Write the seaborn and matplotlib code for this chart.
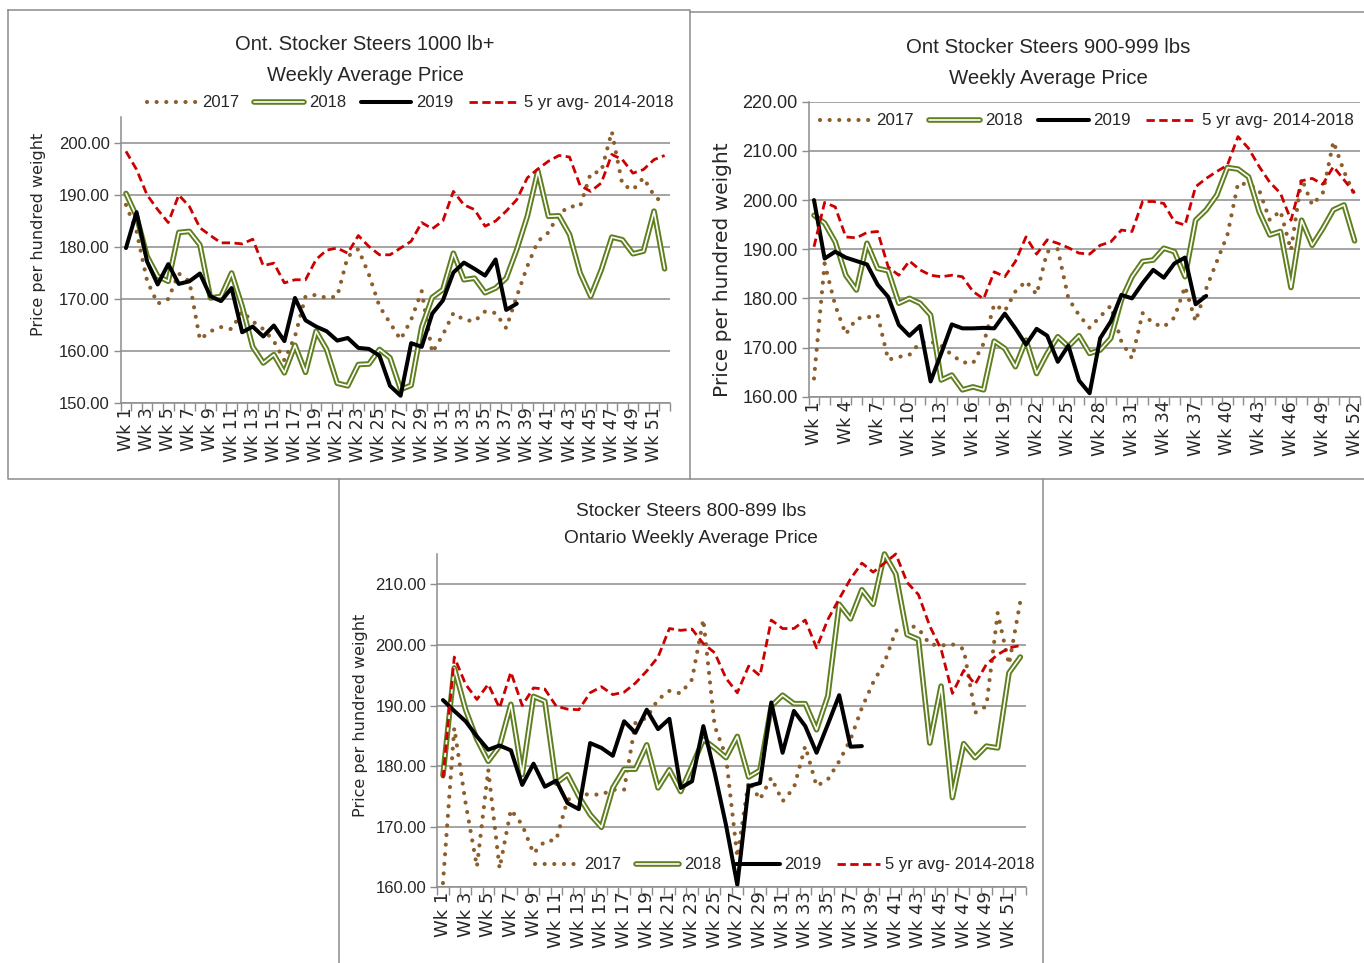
import matplotlib
matplotlib.use("Agg")
import numpy as np
import matplotlib.pyplot as plt
import matplotlib.patheffects as pe
from matplotlib.lines import Line2D
import seaborn as sns

# ---- data ----
weeks = list(range(1, 53))

# Ont. Stocker Steers 1000 lb+
p1_2017 = [188.1, 183.0, 173.5, 169.1, 170.0, 174.9, 173.4, 162.2, 163.8, 164.6,
           164.2, 167.6, 165.7, 164.2, 161.9, 158.2, 162.8, 170.5, 170.8, 170.2,
           170.5, 178.2, 179.6, 174.7, 168.6, 165.4, 162.2, 166.0, 171.5, 159.7,
           163.1, 167.3, 166.0, 165.7, 167.6, 167.3, 164.4, 170.5, 176.3, 181.1,
           182.8, 186.4, 187.8, 187.8, 194.2, 194.5, 202.2, 192.0, 191.0, 193.3,
           189.9, 188.1]
p1_2018 = [190.3, 185.9, 178.2, 174.4, 173.4, 182.8, 183.0, 180.4, 170.2, 170.5,
           175.0, 168.6, 160.8, 157.7, 159.3, 155.8, 161.1, 155.9, 163.8, 160.3,
           153.8, 153.3, 157.4, 157.5, 160.3, 158.7, 152.6, 153.4, 164.6, 170.3,
           171.8, 178.8, 173.7, 174.0, 171.2, 172.1, 174.0, 179.5, 185.9, 194.6,
           185.9, 186.0, 182.4, 175.0, 170.5, 175.6, 181.9, 181.4, 178.7, 179.2,
           186.9, 175.8]
p1_2019 = [179.8, 186.7, 177.2, 172.8, 176.7, 172.9, 173.4, 174.9, 170.5, 169.6,
           172.1, 163.6, 164.7, 162.8, 164.9, 161.9, 170.2, 165.9, 164.7, 163.8,
           162.0, 162.5, 160.6, 160.4, 159.1, 153.3, 151.4, 161.5, 160.8, 167.2,
           169.7, 175.1, 177.0, 175.8, 174.5, 177.6, 167.9, 169.1]
p1_avg = [198.4, 194.9, 190.0, 187.2, 184.7, 190.0, 187.8, 183.7, 182.2, 180.8,
          180.8, 180.6, 181.5, 176.4, 176.9, 173.1, 173.7, 173.7, 177.6, 179.4,
          179.8, 178.8, 182.2, 180.1, 178.5, 178.5, 179.8, 181.1, 184.7, 183.5,
          185.0, 190.7, 188.1, 187.2, 184.0, 185.0, 186.9, 189.1, 193.3, 195.0,
          196.5, 197.6, 197.3, 191.8, 190.7, 192.3, 197.8, 196.8, 194.2, 194.9,
          196.8, 197.6]

# Ont Stocker Steers 900-999 lbs
p2_2017 = [163.7, 187.1, 178.6, 172.7, 175.9, 176.1, 176.6, 167.5, 168.1, 168.5,
           171.0, 171.2, 170.4, 168.5, 167.0, 166.8, 170.8, 178.8, 177.4, 181.4,
           183.5, 180.8, 189.5, 190.0, 180.0, 176.6, 174.0, 176.3, 178.5, 171.2,
           167.8, 177.0, 174.9, 174.2, 176.1, 182.4, 175.3, 182.0, 187.5, 192.9,
           203.4, 203.2, 202.0, 195.9, 197.8, 189.8, 204.4, 199.0, 201.4, 211.9,
           205.8, 201.0]
p2_2018 = [196.9, 195.3, 191.5, 184.7, 181.7, 191.2, 186.1, 185.6, 179.0, 180.0,
           179.0, 176.6, 163.4, 164.4, 161.4, 162.0, 161.4, 171.3, 169.8, 166.1,
           171.5, 164.7, 168.8, 172.2, 170.2, 172.4, 168.8, 169.5, 171.9, 179.7,
           184.4, 187.5, 187.8, 190.2, 189.5, 184.4, 195.9, 198.0, 201.0, 206.6,
           206.3, 204.7, 197.6, 192.9, 193.6, 182.2, 195.9, 190.8, 194.2, 198.0,
           199.0, 191.7]
p2_2019 = [200.0, 188.1, 189.5, 188.3, 187.6, 186.9, 182.8, 180.3, 174.6, 172.4,
           174.4, 163.1, 168.8, 174.7, 173.9, 173.9, 174.0, 173.9, 176.9, 173.9,
           170.6, 173.8, 172.4, 167.1, 170.4, 163.3, 160.7, 171.9, 175.3, 180.7,
           180.0, 183.1, 185.8, 184.2, 187.1, 188.3, 178.8, 180.5]
p2_avg = [190.5, 199.5, 198.6, 192.5, 192.3, 193.4, 193.6, 186.4, 184.7, 187.6,
          185.8, 184.7, 184.4, 184.7, 184.4, 181.4, 179.9, 185.4, 184.4, 187.5,
          192.5, 189.0, 191.9, 191.2, 190.3, 189.2, 189.0, 190.8, 191.5, 193.9,
          193.6, 199.7, 199.7, 199.3, 195.6, 194.9, 202.7, 204.4, 205.8, 207.1,
          212.9, 210.5, 206.8, 203.6, 201.4, 195.9, 203.9, 204.4, 203.2, 206.8,
          204.1, 201.4]

# Stocker Steers 800-899 lbs
p3_2017 = [160.7, 186.3, 173.9, 163.4, 179.4, 163.1, 172.8, 170.3, 165.6, 167.6,
           167.8, 174.4, 175.4, 175.3, 175.3, 176.1, 176.1, 187.1, 188.0, 191.0,
           192.4, 192.0, 194.3, 204.2, 186.6, 181.6, 165.0, 177.5, 174.5, 178.1,
           174.2, 176.4, 183.3, 176.7, 177.8, 180.8, 184.4, 189.6, 193.8, 197.1,
           202.3, 203.4, 202.7, 200.1, 199.9, 200.1, 199.3, 188.8, 189.9, 205.3,
           196.8, 207.2]
p3_2018 = [178.5, 196.2, 189.3, 184.4, 180.8, 183.3, 190.2, 178.6, 191.5, 190.7,
           177.2, 178.6, 175.0, 172.0, 169.9, 176.4, 179.5, 179.5, 183.5, 176.4,
           179.4, 175.8, 180.0, 184.4, 183.0, 181.4, 184.9, 178.2, 179.3, 189.9,
           191.7, 190.3, 190.3, 186.0, 191.6, 206.7, 204.3, 209.1, 206.7, 215.0,
           211.7, 201.7, 200.9, 183.8, 193.2, 174.8, 183.7, 181.4, 183.3, 183.0,
           195.4, 198.0]
p3_2019 = [190.9, 189.1, 187.4, 184.9, 182.7, 183.4, 182.6, 176.9, 180.4, 176.6,
           177.6, 173.9, 172.9, 183.8, 183.0, 181.7, 187.4, 185.5, 189.3, 186.1,
           187.8, 176.4, 177.5, 186.6, 178.9, 170.3, 160.4, 176.7, 177.2, 190.5,
           182.2, 189.1, 186.6, 182.2, 186.9, 191.7, 183.2, 183.3]
p3_avg = [178.0, 198.0, 193.5, 191.0, 193.5, 189.6, 195.5, 190.0, 192.9, 192.7,
          189.9, 189.4, 189.3, 192.1, 193.1, 191.8, 192.2, 193.7, 195.7, 198.0,
          202.7, 202.4, 202.6, 200.2, 198.7, 194.5, 192.1, 196.5, 194.9, 204.1,
          202.7, 202.7, 204.1, 199.5, 204.2, 207.6, 210.9, 213.5, 212.0, 213.5,
          215.0, 210.3, 208.3, 203.1, 199.3, 192.0, 195.8, 193.5, 196.8, 198.4,
          199.5, 199.9]

series_labels = ['2017', '2018', '2019', '5 yr avg- 2014-2018']

brown = '#8c5e2c'
green = '#5f7f1f'
red = '#cc0000'
gray = '#8c8c8c'

sns.set_theme(style="white")
plt.rcParams['font.family'] = ['Liberation Sans', 'DejaVu Sans']

W, H = 1364, 963
fig = plt.figure(figsize=(W / 100, H / 100), dpi=100)


def px_axes(left, top, right, bottom):
    return fig.add_axes([left / W, 1 - bottom / H, (right - left) / W, (bottom - top) / H])


def fig_line(xs, ys):
    fig.add_artist(Line2D([x / W for x in xs], [1 - y / H for y in ys],
                          transform=fig.transFigure, color=gray, lw=1.1))


def draw_panel(ax, d17, d18, d19, davg, ylo, yhi, ytop, lab_step, fs_tick, fs_x, fs_ylab):
    sns.lineplot(x=weeks, y=d17, ax=ax, color=brown, lw=3.0, linestyle=(0, (0.01, 2.3)),
                 dash_capstyle='round', label=series_labels[0], clip_on=False)
    sns.lineplot(x=weeks, y=d18, ax=ax, color='white', lw=1.2, label=series_labels[1],
                 path_effects=[pe.Stroke(linewidth=4.0, foreground=green), pe.Normal()],
                 clip_on=False)
    sns.lineplot(x=weeks[:len(d19)], y=d19, ax=ax, color='black', lw=2.9,
                 label=series_labels[2], clip_on=False)
    sns.lineplot(x=weeks, y=davg, ax=ax, color=red, lw=2.0, linestyle=(0, (3, 1.6)),
                 label=series_labels[3], clip_on=False)

    ax.set_xlim(0.5, 52.5)
    ax.set_ylim(ylo, ytop)
    yt = list(range(ylo, yhi + 1, 10))
    ax.set_yticks(yt)
    ax.set_yticklabels([f'{v:.2f}' for v in yt], fontsize=fs_tick)
    ax.yaxis.grid(True, color=gray, lw=1.1)
    ax.xaxis.grid(False)
    ax.set_axisbelow(True)
    for s in ['top', 'right']:
        ax.spines[s].set_visible(False)
    for s in ['left', 'bottom']:
        ax.spines[s].set_color(gray)
        ax.spines[s].set_linewidth(1.1)

    xt = weeks[::lab_step]
    ax.set_xticks(xt)
    ax.set_xticklabels([f'Wk {w}' for w in xt], rotation=90, fontsize=fs_x,
                       fontfamily='DejaVu Sans')
    ax.set_xticks(np.arange(0.5, 53, 1), minor=True)
    ax.tick_params(axis='x', which='major', length=0, pad=3)
    ax.tick_params(axis='x', which='minor', bottom=True, length=6, color=gray, width=1)
    ax.tick_params(axis='y', left=True, length=5, color=gray, width=1, pad=3)
    ax.set_xlabel('')
    ax.set_ylabel('Price per hundred weight', fontsize=fs_ylab, fontfamily='DejaVu Sans')


def add_legend(ax, x, y, fs, hl):
    ax.legend(ncol=4, loc='center', bbox_to_anchor=(x, y), frameon=False,
              fontsize=fs, handlelength=hl, handletextpad=0.3, columnspacing=0.9,
              borderaxespad=0, borderpad=0)


# panel 1
ax1 = px_axes(120.7, 117, 669.9, 403)
draw_panel(ax1, p1_2017, p1_2018, p1_2019, p1_avg, 150, 200, 205, 2, 12, 12.5, 11.5)
ax1.yaxis.set_label_coords(-0.136, 0.59)
add_legend(ax1, 0.527, 1.049, 12, 3.0)
fig.text(365 / W, 1 - 60 / H, 'Ont. Stocker Steers 1000 lb+\nWeekly Average Price',
         ha='center', va='center', fontsize=14.5, linespacing=1.75)

# panel 2
ax2 = px_axes(808.7, 101.7, 1359.9, 396.7)
draw_panel(ax2, p2_2017, p2_2018, p2_2019, p2_avg, 160, 220, 220, 3, 13, 12.5, 14.5)
ax2.yaxis.set_label_coords(-0.139, 0.43)
add_legend(ax2, 0.505, 0.9346, 12.2, 3.0)
fig.text(1048 / W, 1 - 63 / H, 'Ont Stocker Steers 900-999 lbs\nWeekly Average Price',
         ha='center', va='center', fontsize=14.7, linespacing=1.75)

# panel 3
ax3 = px_axes(437.3, 554, 1026, 887.3)
draw_panel(ax3, p3_2017, p3_2018, p3_2019, p3_avg, 160, 210, 215, 2, 12, 13, 11.5)
ax3.yaxis.set_label_coords(-0.118, 0.517)
add_legend(ax3, 0.5906, 0.067, 12, 2.6)
fig.text(691 / W, 1 - 525 / H, 'Stocker Steers 800-899 lbs\nOntario Weekly Average Price',
         ha='center', va='center', fontsize=13.8, linespacing=1.72)

# chart borders
fig_line([8, 690, 690, 8, 8], [10, 10, 479, 479, 10])
fig_line([690, 1364], [12.5, 12.5])
fig_line([690, 1364], [479, 479])
fig_line([338.7, 338.7], [479, 963])
fig_line([1043, 1043], [479, 963])

fig.savefig('out.png', dpi=100, facecolor='white')
